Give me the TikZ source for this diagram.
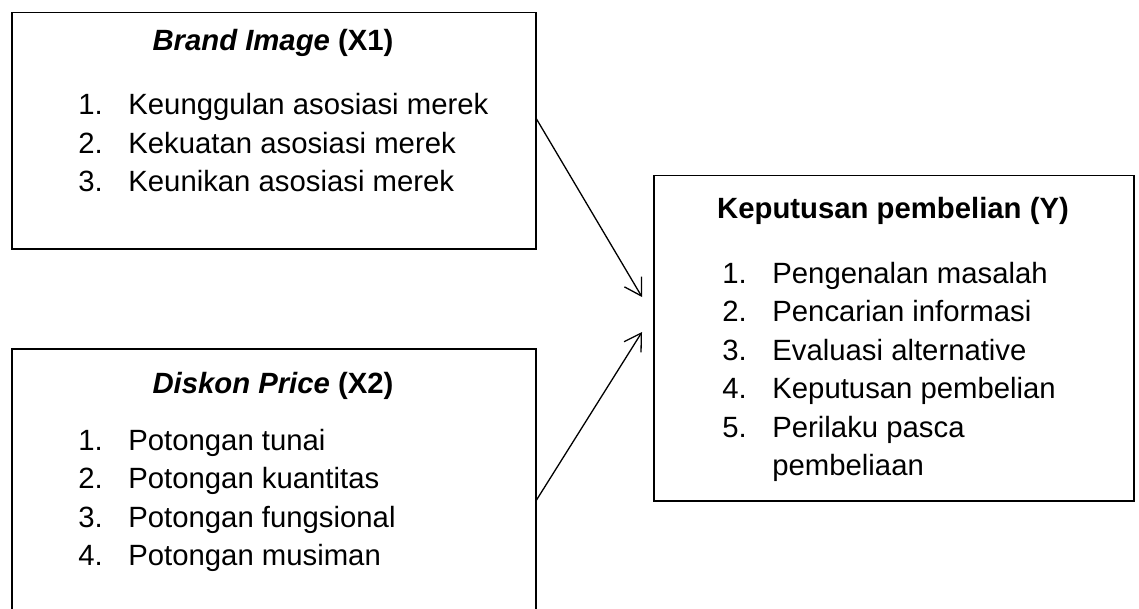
\documentclass[tikz,border=0pt]{standalone}
\usepackage{fontspec}
\setmainfont{Liberation Sans}
\usetikzlibrary{arrows.meta,positioning}

\begin{document}
\begin{tikzpicture}[x=0.5pt,y=-0.5pt,
  every node/.style={font=\fontsize{14.65pt}{19.25pt}\selectfont},
  box/.style={draw,line width=0.75pt,inner sep=0pt,anchor=north west},
  ttl/.style={anchor=base,inner sep=0pt,font=\fontsize{14.65pt}{19.25pt}\selectfont\bfseries},
  lst/.style={anchor=base west,inner sep=0pt},
  arr/.style={-{Straight Barb[length=8.25pt,width=10pt]},line width=0.65pt}]
\useasboundingbox (0,0) rectangle (1139,609);
\clip (0,0) rectangle (1139,609);
% boxes
\node[box,minimum width=262pt,minimum height=118pt] (bi) at (11,12) {};
\node[box,minimum width=262pt,minimum height=146pt] (dp) at (11,348) {};
\node[box,minimum width=240pt,minimum height=162.5pt] (kp) at (653,175) {};
% titles
\node[ttl] (bit) at (273,51) {\textit{Brand Image} (X1)};
\node[ttl] (dpt) at (273,393) {\textit{Diskon Price} (X2)};
\node[ttl] (kpt) at (893,219) {Keputusan pembelian (Y)};
% indicators
\node[lst] (bil) at (78,115) {\begin{tabular}[t]{@{}p{25pt}@{}l@{}}
1. & Keunggulan asosiasi merek\\
2. & Kekuatan asosiasi merek\\
3. & Keunikan asosiasi merek
\end{tabular}};
\node[lst] (dpl) at (78,450) {\begin{tabular}[t]{@{}p{25pt}@{}l@{}}
1. & Potongan tunai\\
2. & Potongan kuantitas\\
3. & Potongan fungsional\\
4. & Potongan musiman
\end{tabular}};
\node[lst] (kpl) at (722,283) {\begin{tabular}[t]{@{}p{25pt}@{}l@{}}
1. & Pengenalan masalah\\
2. & Pencarian informasi\\
3. & Evaluasi alternative\\
4. & Keputusan pembelian\\
5. & Perilaku pasca\\
   & pembeliaan
\end{tabular}};
% arrows
\coordinate (s1) at (535,119);
\coordinate (s2) at (535,500);
\coordinate (t1) at (642,297);
\coordinate (t2) at (642,332);
\draw[arr] (bi.east |- s1) -- (t1);
\draw[arr] (dp.east |- s2) -- (t2);
\end{tikzpicture}
\end{document}
